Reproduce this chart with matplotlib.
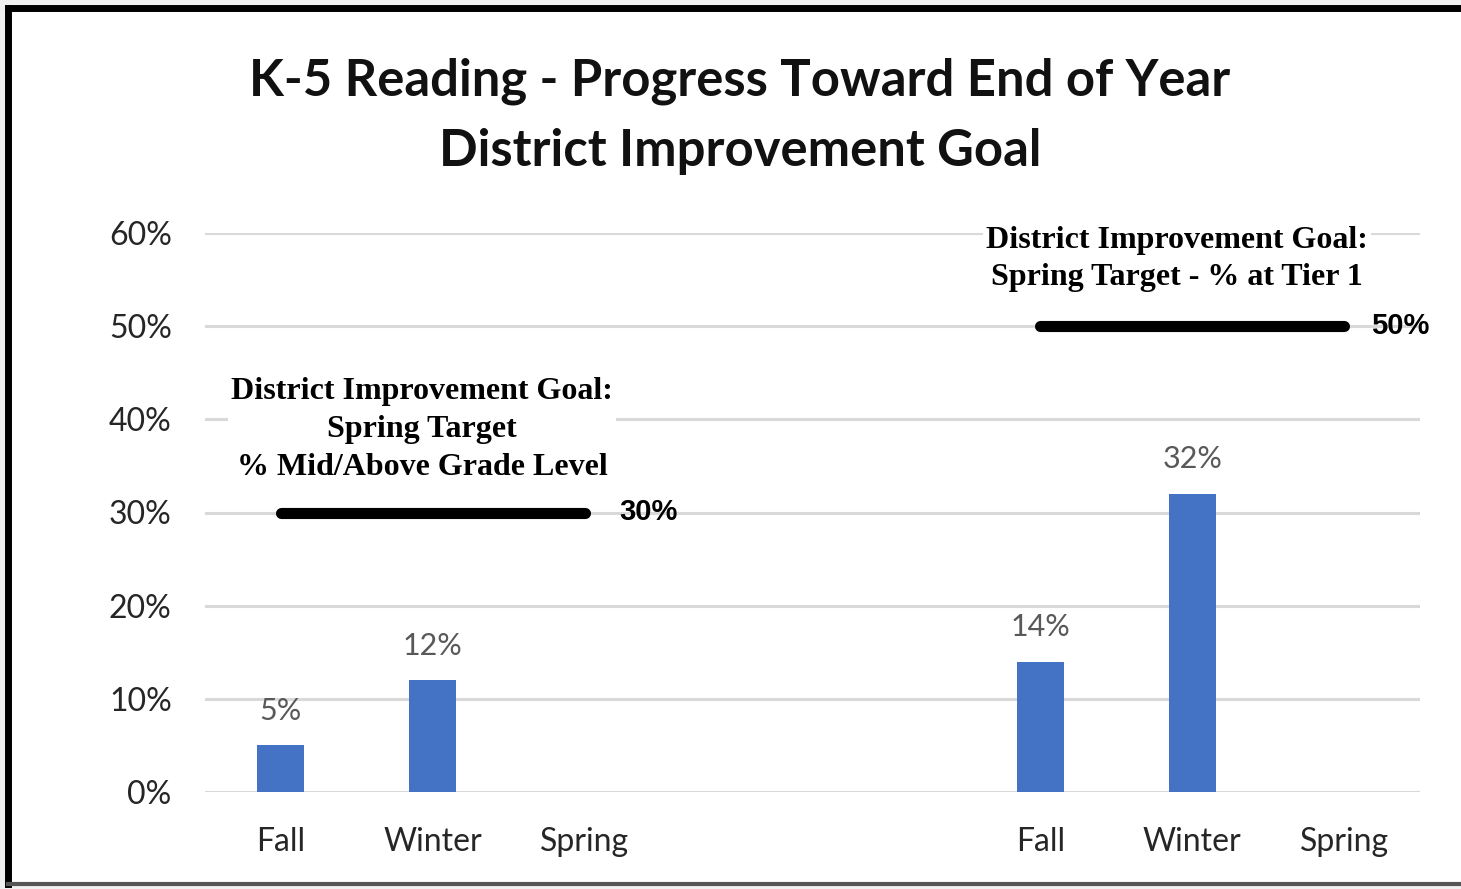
import matplotlib
matplotlib.use("Agg")
import matplotlib.pyplot as plt
from matplotlib.patches import Rectangle
from matplotlib.lines import Line2D

# data
categories = ["Fall", "Winter", "Spring", "", "", "Fall", "Winter", "Spring"]
grade_level = [0.05, 0.12, None]      # % Mid/Above Grade Level
tier1 = [0.14, 0.32, None]            # % at Tier 1
grade_goal = 0.30
tier1_goal = 0.50
yticks = [0, 0.1, 0.2, 0.3, 0.4, 0.5, 0.6]

bar_color = "#4472C4"
sans = "Lato"
serif = "Liberation Serif"

fig = plt.figure(figsize=(14.61, 8.89), dpi=100)
fig.patch.set_facecolor("#f0f0f0")
W, H = 1461, 889

def px(x, y):
    return x / W, 1 - y / H

# white panel with black frame (top & left) like the screenshot
x0, y0 = px(8, 884)
fig.add_artist(Rectangle((x0, y0), 1.2, (884 - 8) / H, transform=fig.transFigure,
                         facecolor="white", edgecolor="none", zorder=0))
fig.add_artist(Line2D([8 / W, 1.0], [1 - 8 / H] * 2, transform=fig.transFigure,
                      color="black", lw=5))
fig.add_artist(Line2D([8 / W] * 2, [1 - 8 / H, 1 - 884 / H], transform=fig.transFigure,
                      color="black", lw=5))
fig.add_artist(Line2D([8 / W, 1.0], [1 - 884 / H] * 2, transform=fig.transFigure,
                      color="#555555", lw=3))

ax = fig.add_axes([205 / W, 1 - 792 / H, (1420 - 205) / W, (792 - 233) / H])
ax.set_facecolor("none")

left_x = [0, 1, 2]
right_x = [5, 6, 7]
for xs, vals in [(left_x, grade_level), (right_x, tier1)]:
    for x, v in zip(xs, vals):
        if v is None:
            continue
        ax.bar(x, v, width=0.31, color=bar_color, zorder=3)
        ax.text(x, v + 0.037, f"{round(v * 100)}%", ha="center", va="center",
                fontsize=22, color="#595959", family=sans)

# goal lines
ax.plot([left_x[0], left_x[-1]], [grade_goal] * 2, color="black", lw=8,
        solid_capstyle="round", zorder=4)
ax.plot([right_x[0], right_x[-1]], [tier1_goal] * 2, color="black", lw=8,
        solid_capstyle="round", zorder=4)
ax.text(2.23, grade_goal, f"{round(grade_goal * 100)}%", ha="left", va="center",
        fontsize=21, fontweight="bold", family="Liberation Sans", zorder=5)
ax.text(7.18, tier1_goal, f"{round(tier1_goal * 100)}%", ha="left", va="center",
        fontsize=21, fontweight="bold", family="Liberation Sans", zorder=5)

ax.text(0.93, 0.389, "District Improvement Goal:\nSpring Target\n% Mid/Above Grade Level",
        ha="center", va="center", fontsize=23, fontweight="bold", family=serif,
        linespacing=1.4, zorder=5,
        bbox=dict(facecolor="white", edgecolor="none", pad=2))
ax.text(5.90, 0.572, "District Improvement Goal:\nSpring Target - % at Tier 1",
        ha="center", va="center", fontsize=23, fontweight="bold", family=serif,
        linespacing=1.4, zorder=5,
        bbox=dict(facecolor="white", edgecolor="none", pad=2))

ax.set_xlim(-0.5, 7.5)
ax.set_ylim(0, 0.6)
ax.set_yticks(yticks)
ax.set_yticklabels([f"{round(t * 100)}%" for t in yticks])
ax.set_xticks(range(len(categories)))
ax.set_xticklabels(categories)
ax.tick_params(axis="both", length=0, labelsize=23, labelcolor="#262626")
ax.tick_params(axis="y", pad=24)
ax.tick_params(axis="x", pad=25)
for lab in ax.get_xticklabels() + ax.get_yticklabels():
    lab.set_family(sans)
ax.grid(axis="y", color="#d9d9d9", lw=2.2, zorder=0)
ax.set_axisbelow(True)
for s in ax.spines.values():
    s.set_visible(False)

tx, ty = px(740, 116)
fig.text(tx, ty, "K-5 Reading - Progress Toward End of Year\nDistrict Improvement Goal",
         ha="center", va="center", fontsize=36.5, fontweight="bold", family=sans,
         linespacing=1.6, color="#111111")

fig.savefig("out.png", dpi=100, facecolor=fig.get_facecolor())
